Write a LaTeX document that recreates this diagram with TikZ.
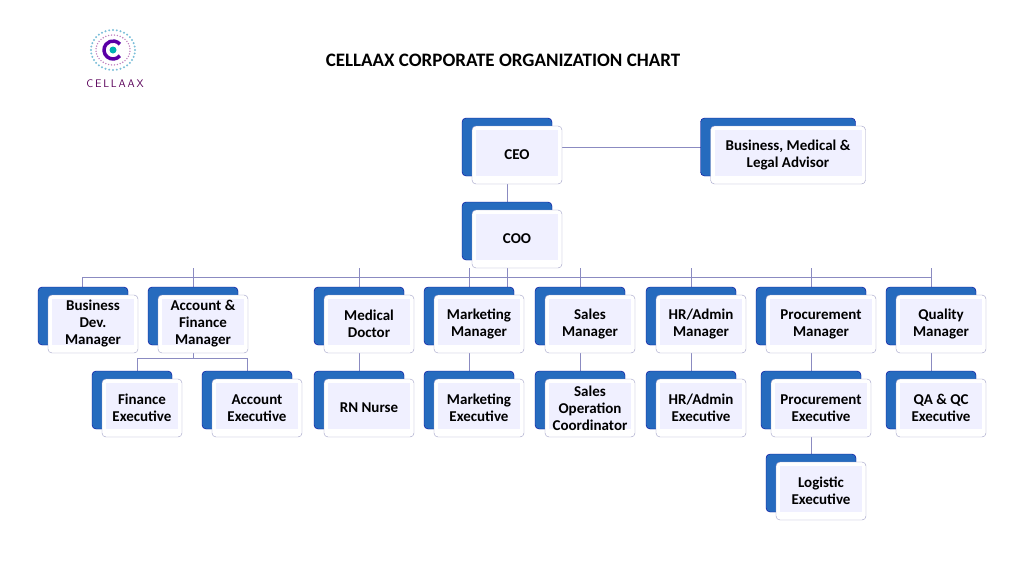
\documentclass[tikz,border=0pt]{standalone}
\usepackage{fontspec}
\setmainfont{Carlito}
\begin{document}
\begin{tikzpicture}[x=1pt,y=-1pt,
 back/.style={fill=blue!55!cyan!70!black!85, draw=blue!60!black, rounded corners=4pt},
 front/.style={fill=white, draw=blue!25!gray!60, rounded corners=4pt},
 inner/.style={fill=blue!6, draw=none},
 lbl/.style={font=\fontsize{15}{17}\selectfont\bfseries, align=center, text=black},
 ln/.style={draw=blue!30!gray!70, line width=0.8pt}]
\useasboundingbox (0,0) rectangle (1024,576);
% logo
\foreach \a in {0,10,...,350}{
  \fill[cyan!50!teal!60] ({113+22*cos(\a)},{50+20*sin(\a)}) circle (1.1);
  \fill[violet!50] ({113+17*cos(\a+5)},{50+15*sin(\a+5)}) circle (0.8);}
\draw[line width=3.5pt, violet!70!blue] (113,50) ++(40:9) arc (40:320:9);
\fill[teal!60!cyan] (113,50) circle (3.5);
\node[font=\fontsize{11}{12}\selectfont\sffamily, text=violet!70!black] (logo) at (115,84) {C\,E\,L\,L\,A\,A\,X};
\node[font=\fontsize{19}{21}\selectfont\bfseries] (title) at (503,60) {CELLAAX CORPORATE ORGANIZATION CHART};
\newcommand\obox[5]{%
  \fill[back] ({#2-#4/2-10},{#3-37}) rectangle ({#2+#4/2-10},{#3+21});
  \draw[front] ({#2-#4/2},{#3-29}) rectangle ({#2+#4/2},{#3+29});
  \fill[inner] ({#2-#4/2+4},{#3-25}) rectangle ({#2+#4/2-4},{#3+21});
  \node[lbl] (#1) at (#2,#3) {#5};}
% connectors
\draw[ln] (507,147) -- (715,147);
\draw[ln] (507,180) -- (507,210);
\draw[ln] (82,295) |- (931,277);
\foreach \x in {193,359,469,580,691,811,931,507}{\draw[ln] (\x,268) -- (\x,290);}
\draw[ln] (193,350) -- (193,358);
\draw[ln] (137,375) |- (247,358) -- (247,375);
\foreach \x in {359,469,580,691,811,931}{\draw[ln] (\x,350) -- (\x,372);}
\draw[ln] (811,436) -- (811,456);
% boxes
\obox{ceo}{517}{155}{90}{CEO}
\obox{adv}{788}{155}{155}{Business, Medical \&\\Legal Advisor}
\obox{coo}{517}{239}{90}{COO}
\obox{bdm}{93}{324}{90}{Business\\Dev.\\Manager}
\obox{afm}{203}{324}{90}{Account \&\\Finance\\Manager}
\obox{md}{369}{324}{90}{Medical\\Doctor}
\obox{mm}{479}{324}{90}{Marketing\\Manager}
\obox{sm}{590}{324}{90}{Sales\\Manager}
\obox{hrm}{701}{324}{90}{HR/Admin\\Manager}
\obox{pm}{821}{324}{110}{Procurement\\Manager}
\obox{qm}{941}{324}{90}{Quality\\Manager}
\obox{fe}{142}{408}{80}{Finance\\Executive}
\obox{ae}{257}{408}{90}{Account\\Executive}
\obox{rn}{369}{408}{90}{RN Nurse}
\obox{me}{479}{408}{90}{Marketing\\Executive}
\obox{so}{590}{408}{90}{Sales\\Operation\\Coordinator}
\obox{hre}{701}{408}{90}{HR/Admin\\Executive}
\obox{pe}{821}{408}{100}{Procurement\\Executive}
\obox{qa}{941}{408}{90}{QA \& QC\\Executive}
\obox{le}{821}{491}{90}{Logistic\\Executive}
\end{tikzpicture}
\end{document}
